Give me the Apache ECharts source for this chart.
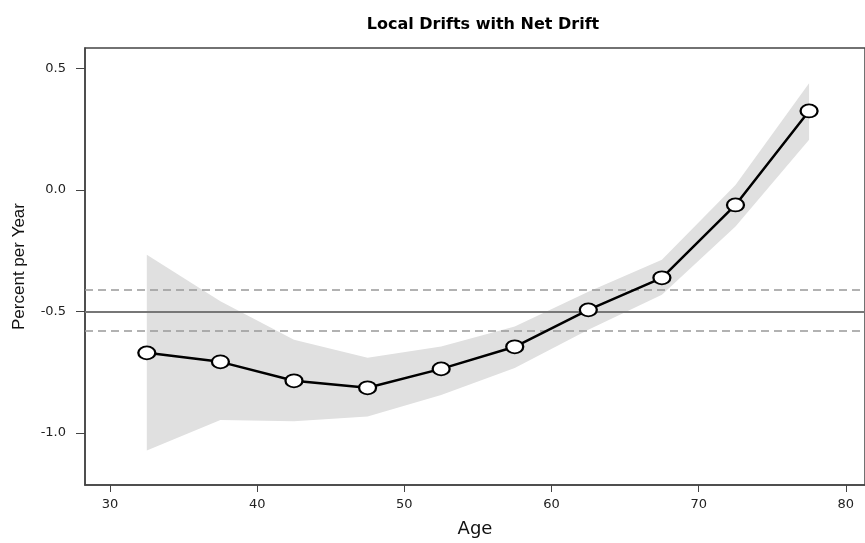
<!DOCTYPE html>
<html>
<head>
<meta charset="utf-8">
<script src="https://cdn.jsdelivr.net/npm/echarts@6/dist/echarts.min.js"></script>
<style>html,body{margin:0;padding:0;background:#fff}#c{width:865px;height:543px}</style>
</head>
<body>
<div id="c"></div>
<script>
// Data
var ages = [32.5, 37.5, 42.5, 47.5, 52.5, 57.5, 62.5, 67.5, 72.5, 77.5];
var localDrift = [-0.671, -0.708, -0.786, -0.815, -0.737, -0.646, -0.494, -0.362, -0.062, 0.325];
var ciUpper = [-0.267, -0.459, -0.617, -0.691, -0.645, -0.563, -0.419, -0.288, 0.020, 0.439];
var ciLower = [-1.073, -0.947, -0.953, -0.933, -0.844, -0.733, -0.576, -0.432, -0.151, 0.206];
var netDrift = -0.497;
var netDriftLower = -0.579;
var netDriftUpper = -0.414;
var xTicks = [30, 40, 50, 60, 70, 80];
var yTicks = [-1.0, -0.5, 0.0, 0.5];

var chart = echarts.init(document.getElementById('c'), null, {renderer: 'canvas'});
var wide = 'DejaVu Sans, Verdana, sans-serif';
var narrow = 'Liberation Sans, Arial, Helvetica, sans-serif';

var linePts = ages.map(function (a, i) { return [a, localDrift[i]]; });
var bandPts = ages.map(function (a, i) { return [a, ciLower[i], ciUpper[i]]; });

chart.setOption({
  animation: false,
  backgroundColor: '#fff',
  title: {
    text: 'Local Drifts with Net Drift',
    left: 478, top: 12, textAlign: 'center',
    textStyle: {fontFamily: wide, fontSize: 16, fontWeight: 'bold', color: '#000'}
  },
  grid: {left: 85, top: 48, width: 785, height: 437, show: true, borderColor: '#444', borderWidth: 1.5, backgroundColor: 'transparent'},
  xAxis: {
    type: 'value', min: 28.3, max: 81.3,
    name: 'Age', nameLocation: 'middle', nameGap: 35,
    nameTextStyle: {fontFamily: wide, fontSize: 18, color: '#111'},
    axisLine: {show: true, onZero: false, lineStyle: {color: '#444', width: 1.5}},
    axisTick: {show: true, length: 7, lineStyle: {color: '#444', width: 1}, customValues: xTicks},
    axisLabel: {fontFamily: wide, fontSize: 13, color: '#222', margin: 13, customValues: xTicks,
      formatter: function (v) { return String(v); }},
    splitLine: {show: false}
  },
  yAxis: {
    type: 'value', min: -1.215, max: 0.584,
    name: 'Percent per Year', nameLocation: 'middle', nameGap: 57, nameRotate: 90,
    nameTextStyle: {fontFamily: narrow, fontSize: 17, color: '#111'},
    axisLine: {show: true, onZero: false, lineStyle: {color: '#444', width: 1.5}},
    axisTick: {show: true, length: 9, lineStyle: {color: '#444', width: 1}, customValues: yTicks},
    axisLabel: {fontFamily: wide, fontSize: 13, color: '#222', margin: 19, customValues: yTicks,
      formatter: function (v) { return v.toFixed(1); }},
    splitLine: {show: false}
  },
  series: [
    {
      type: 'custom',
      data: bandPts,
      z: 1,
      silent: true,
      renderItem: function (params, api) {
        if (params.dataIndex !== 0) return null;
        var upper = bandPts.map(function (d) { return api.coord([d[0], d[2]]); });
        var lower = bandPts.map(function (d) { return api.coord([d[0], d[1]]); }).reverse();
        return {
          type: 'polygon',
          shape: {points: upper.concat(lower)},
          style: {fill: '#e0e0e0', stroke: null}
        };
      }
    },
    {
      type: 'line',
      data: linePts,
      z: 5,
      symbol: 'circle',
      symbolSize: [17, 13],
      lineStyle: {color: '#000', width: 2.5},
      itemStyle: {color: '#fff', borderColor: '#000', borderWidth: 2},
      markLine: {
        silent: true, symbol: 'none', label: {show: false},
        data: [
          {yAxis: netDrift, lineStyle: {color: '#777', width: 2, type: 'solid'}},
          {yAxis: netDriftUpper, lineStyle: {color: '#999', width: 1.5, type: [8, 5]}},
          {yAxis: netDriftLower, lineStyle: {color: '#999', width: 1.5, type: [8, 5]}}
        ]
      }
    }
  ]
});
</script>
</body>
</html>
